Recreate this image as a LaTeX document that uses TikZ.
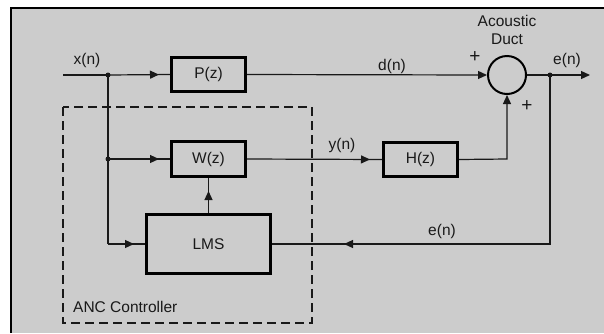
\documentclass[tikz,border=0pt]{standalone}
\usepackage{fontspec}
\setmainfont{Liberation Sans}
\usetikzlibrary{arrows.meta,decorations.markings}
\definecolor{bgc}{RGB}{204,204,204}
\definecolor{inkc}{RGB}{25,25,25}
\begin{document}
\begin{tikzpicture}[x=1pt,y=-1pt,
  font=\fontsize{15.5}{17}\selectfont,
  every node/.style={text=inkc},
  blk/.style={draw=black,line width=3pt,inner sep=0pt,fill=bgc},
  sumc/.style={circle,draw=black,line width=2pt,minimum size=38pt,inner sep=0pt},
  wire/.style={draw=inkc,line width=1.2pt},
  tipd/.style={-{Triangle[length=9pt,width=8pt]}},
  midarr/.style={postaction={decorate},decoration={markings,mark=at position #1 with {\arrow{Triangle[length=9pt,width=8pt]}}}},
  jdot/.style={circle,fill=inkc,inner sep=0pt,minimum size=5pt},
  lbl/.style={inner sep=1pt},
  plus/.style={inner sep=1pt,font=\fontsize{19}{20}\selectfont},
  dashbox/.style={draw=inkc,line width=1.1pt,dash pattern=on 9pt off 5pt}
]
\useasboundingbox (0,0) rectangle (604,333);
\fill[white] (0,0) rectangle (604,333);
\fill[bgc] (11,8) rectangle (604,333);
\draw[line width=2.5pt,black] (11,333) -- (11,8) -- (604,8);

% dashed controller box
\draw[dashbox] (63,107) rectangle (312,323);
\node[lbl,anchor=west] (anc) at (72,307) {ANC Controller};

% blocks
\node[blk,minimum width=74pt,minimum height=34pt] (P) at (208.5,74.5) {P(z)};
\node[blk,minimum width=74pt,minimum height=35pt] (W) at (208.5,159) {W(z)};
\node[blk,minimum width=74pt,minimum height=34pt] (H) at (420.5,159.5) {H(z)};
\node[blk,minimum width=124pt,minimum height=59pt] (L) at (208.5,244) {LMS};
\node[sumc] (S) at (507,75) {};

% coordinates
\coordinate (xin) at (63,75);
\node[jdot] (j1) at (108,75) {};
\node[jdot] (j2) at (108,159) {};
\coordinate (c1) at (108,244);
\node[jdot] (j3) at (550,75) {};
\coordinate (eout) at (590,75);
\coordinate (c2) at (550,244);
\coordinate (c3) at (507,159);

% wires
\draw[wire] (xin) -- (j1.center);
\draw[wire,midarr=-11pt] (j1.center) -- (P.west);
\draw[wire] (j1.center) -- (c1);
\draw[wire,midarr=-11pt] (j2.center) -- (W.west);
\draw[wire,midarr=-11pt] (c1) -- (L.west);
\draw[wire,midarr=-13pt] (L.north) -- (W.south);
\draw[wire,midarr=-12pt] (W.east) -- (H.west);
\draw[wire,tipd] (P.east) -- (S.west);
\draw[wire,tipd] (H.east) -- (c3) -- (S.south);
\draw[wire,tipd] (S.east) -- (eout);
\draw[wire,midarr=-72pt] (j3.center) -- (c2) -- (L.east);

% labels
\node[lbl] (lx) at (87,60) {x(n)};
\node[lbl] (ld) at (392,66) {d(n)};
\node[lbl] (ly) at (342,145) {y(n)};
\node[lbl] (le1) at (567,60) {e(n)};
\node[lbl] (le2) at (442,231) {e(n)};
\node[plus] (p1) at (475,57) {+};
\node[plus] (p2) at (527,106) {+};
\node[lbl] (ac) at (507,21) {Acoustic};
\node[lbl] (du) at (507,39) {Duct};
\end{tikzpicture}
\end{document}
